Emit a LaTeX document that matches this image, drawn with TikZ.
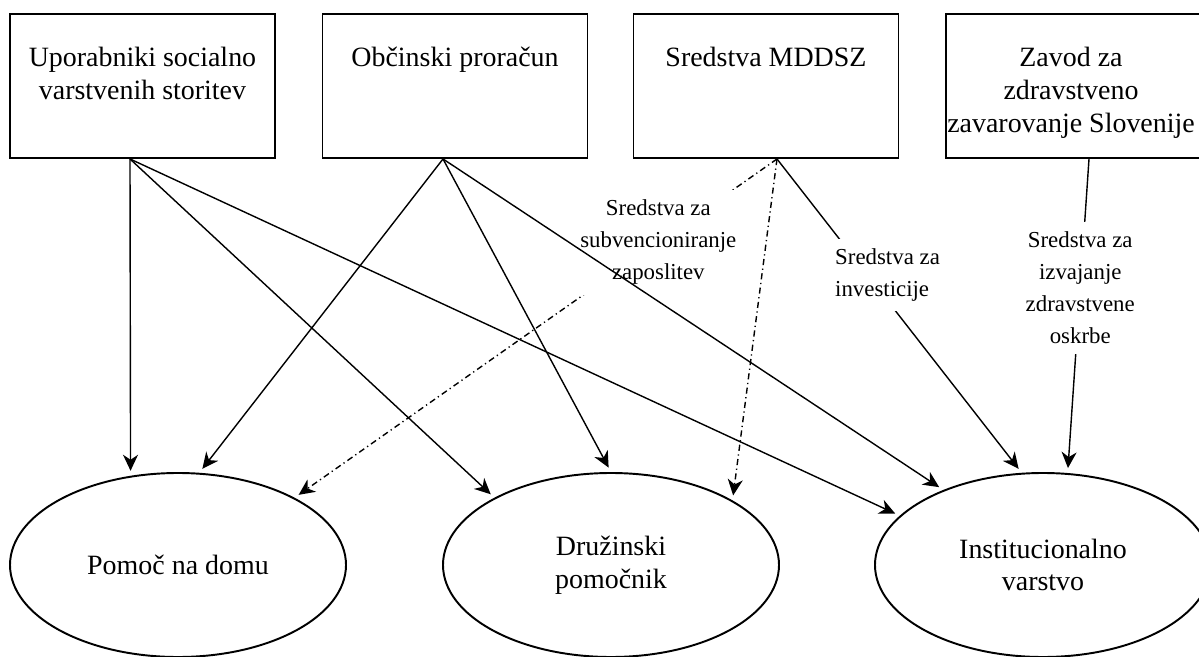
\documentclass[tikz,border=0pt]{standalone}
\usepackage{fontspec}
\setmainfont{Liberation Serif}
\usetikzlibrary{positioning,arrows.meta,shapes.geometric}

\begin{document}
\begin{tikzpicture}[
  box/.style={draw, line width=1.1pt, minimum width=5.3cm, minimum height=2.88cm, inner sep=0pt},
  boxtxt/.style={align=center, inner sep=0pt, font=\fontsize{15.9}{18.6}\selectfont},
  oval/.style={draw, ellipse, line width=1.1pt, minimum width=6.72cm, minimum height=3.68cm, inner sep=0pt, align=center, font=\fontsize{15.9}{18.6}\selectfont},
  arr/.style={-{Stealth[length=3.2mm, width=3mm, inset=1mm]}, line width=0.8pt, shorten >=0.1cm},
  dd/.style={dash pattern=on 3.5pt off 2pt on 0.7pt off 2pt},
  lbl/.style={fill=white, align=center, inner xsep=0.2cm, inner ysep=0.2cm, font=\fontsize{13}{18.2}\selectfont},
]
\useasboundingbox (0,0) rectangle (23.98,-13.14);
% sources
\node[box] (uporabniki) at (2.85,-1.72) {};
\node[box] (proracun) at (9.10,-1.72) {};
\node[box] (mddsz) at (15.32,-1.72) {};
\node[box] (zavod) at (21.57,-1.72) {};
\node[boxtxt, below=0.68cm of uporabniki.north] (uporabnikiTxt) {Uporabniki socialno\\varstvenih storitev};
\node[boxtxt, below=0.68cm of proracun.north] (proracunTxt) {Občinski proračun};
\node[boxtxt, below=0.68cm of mddsz.north] (mddszTxt) {Sredstva MDDSZ};
\node[boxtxt, below=0.68cm of zavod.north, xshift=-0.15cm] (zavodTxt) {Zavod za\\zdravstveno\\zavarovanje Slovenije};
% services
\node[oval] (pomoc) at (3.56,-11.30) {Pomoč na domu};
\node[oval] (druzinski) at (12.22,-11.30) {Družinski\\pomočnik};
\node[oval] (institucionalno) at (20.86,-11.30) {Institucionalno\\varstvo};
% MDDSZ
\draw[arr, dd] ([xshift=0.22cm]mddsz.south) -- node[lbl, pos=0.246] {Sredstva za\\subvencioniranje\\zaposlitev} (pomoc.30.1);
\draw[arr, dd] ([xshift=0.22cm]mddsz.south) -- (druzinski.28.3);
\draw[arr] ([xshift=0.22cm]mddsz.south) -- node[lbl, align=left, pos=0.37, xshift=0.4cm] {Sredstva za\\investicije} (institucionalno.103.4);
% uporabniki
\draw[arr] ([xshift=-0.25cm]uporabniki.south) -- (pomoc.118.55);
\draw[arr] ([xshift=-0.25cm]uporabniki.south) -- (druzinski.150.2);
\draw[arr] ([xshift=-0.25cm]uporabniki.south) -- (institucionalno.161.7);
% obcinski proracun
\draw[arr] ([xshift=-0.24cm]proracun.south) -- (pomoc.77.2);
\draw[arr] ([xshift=-0.24cm]proracun.south) -- (druzinski.90);
\draw[arr] ([xshift=-0.24cm]proracun.south) -- (institucionalno.143.9);
% ZZZS
\draw[arr] ([xshift=0.21cm]zavod.south) -- node[lbl, pos=0.41] {Sredstva za\\izvajanje\\zdravstvene\\oskrbe} (institucionalno.75.5);
\end{tikzpicture}
\end{document}
